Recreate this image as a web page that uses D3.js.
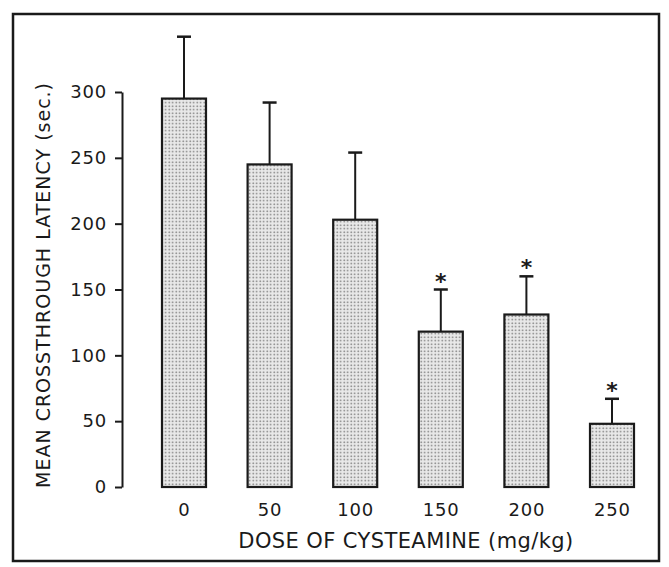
<!DOCTYPE html>
<html>
<head>
<meta charset="utf-8">
<script src="https://cdn.jsdelivr.net/npm/d3@7"></script>
<style>
  body { margin: 0; background: #fff; }
  text { font-family: "DejaVu Sans", sans-serif; fill: #1a1a1a; }
</style>
</head>
<body>
<svg width="669" height="567"></svg>
<script>
// dose groups, mean latency and SEM
var doses = ["0", "50", "100", "150", "200", "250"];
var means = [295, 245, 203, 118, 131, 48];
var sems  = [47, 47, 51, 32, 29, 19];
var signif = [false, false, false, true, true, true];
var yTicks = [0, 50, 100, 150, 200, 250, 300];

var svg = d3.select("svg"),
    width = +svg.attr("width"),
    height = +svg.attr("height");

// dotted fill like the old screen tone
var defs = svg.append("defs");
var pat = defs.append("pattern")
    .attr("id", "dots")
    .attr("width", 3.5).attr("height", 3.5)
    .attr("patternUnits", "userSpaceOnUse");
pat.append("rect").attr("width", 3.5).attr("height", 3.5).attr("fill", "#e8e8e8");
pat.append("circle").attr("cx", 1.2).attr("cy", 1.2).attr("r", 0.8).attr("fill", "#6e6e6e");

// outer frame
svg.append("rect")
    .attr("x", 13).attr("y", 14)
    .attr("width", 646).attr("height", 547)
    .attr("fill", "none")
    .attr("stroke", "#1a1a1a")
    .attr("stroke-width", 2.5);

var y = d3.scaleLinear().domain([0, 300]).range([487, 92]);
var x = d3.scaleBand().domain(doses)
    .range([141.2, 654.8])
    .paddingInner(0.486)
    .paddingOuter(0.243);

var yAxis = svg.append("g")
    .attr("transform", "translate(122,0)")
    .call(d3.axisLeft(y).tickValues(yTicks).tickSize(7).tickSizeOuter(0).tickPadding(8));
yAxis.select(".domain").attr("stroke", "#1a1a1a").attr("stroke-width", 2);
yAxis.selectAll(".tick line").attr("stroke", "#1a1a1a").attr("stroke-width", 2);
yAxis.selectAll(".tick text")
    .style("font-family", "DejaVu Sans, sans-serif")
    .style("font-size", "18px")
    .style("letter-spacing", "0.8px")
    .attr("fill", "#1a1a1a");

// error bars first so the bar outline sits over them
var err = svg.append("g").selectAll("g")
    .data(doses)
    .enter().append("g");
err.append("line")
    .attr("x1", function(d) { return x(d) + x.bandwidth() / 2; })
    .attr("x2", function(d) { return x(d) + x.bandwidth() / 2; })
    .attr("y1", function(d, i) { return y(means[i]); })
    .attr("y2", function(d, i) { return y(means[i] + sems[i]); })
    .attr("stroke", "#1a1a1a").attr("stroke-width", 2);
err.append("line")
    .attr("x1", function(d) { return x(d) + x.bandwidth() / 2 - 7; })
    .attr("x2", function(d) { return x(d) + x.bandwidth() / 2 + 7; })
    .attr("y1", function(d, i) { return y(means[i] + sems[i]); })
    .attr("y2", function(d, i) { return y(means[i] + sems[i]); })
    .attr("stroke", "#1a1a1a").attr("stroke-width", 2.5);

svg.append("g").selectAll("rect")
    .data(doses)
    .enter().append("rect")
    .attr("x", function(d) { return x(d); })
    .attr("y", function(d, i) { return y(means[i]); })
    .attr("width", x.bandwidth())
    .attr("height", function(d, i) { return y(0) - y(means[i]); })
    .attr("fill", "url(#dots)")
    .attr("stroke", "#1a1a1a")
    .attr("stroke-width", 2.2);

// significance stars
svg.append("g").selectAll("text")
    .data(doses.filter(function(d, i) { return signif[i]; }))
    .enter().append("text")
    .attr("x", function(d) { return x(d) + x.bandwidth() / 2; })
    .attr("y", function(d) { var i = doses.indexOf(d); return y(means[i] + sems[i]) - 1; })
    .attr("text-anchor", "middle")
    .style("font-size", "22px")
    .style("font-weight", "bold")
    .text("*");

// dose labels
svg.append("g").selectAll("text")
    .data(doses)
    .enter().append("text")
    .attr("x", function(d) { return x(d) + x.bandwidth() / 2 + 0.4; })
    .attr("y", 516)
    .attr("text-anchor", "middle")
    .style("font-size", "18px")
    .style("letter-spacing", "0.8px")
    .text(function(d) { return d; });

svg.append("text")
    .attr("x", 406).attr("y", 548)
    .attr("text-anchor", "middle")
    .style("font-size", "21px")
    .style("letter-spacing", "0.4px")
    .text("DOSE OF CYSTEAMINE (mg/kg)");

svg.append("text")
    .attr("transform", "translate(50,285) rotate(-90)")
    .attr("text-anchor", "middle")
    .style("font-size", "19px")
    .style("letter-spacing", "1px")
    .text("MEAN CROSSTHROUGH LATENCY (sec.)");
</script>
</body>
</html>
